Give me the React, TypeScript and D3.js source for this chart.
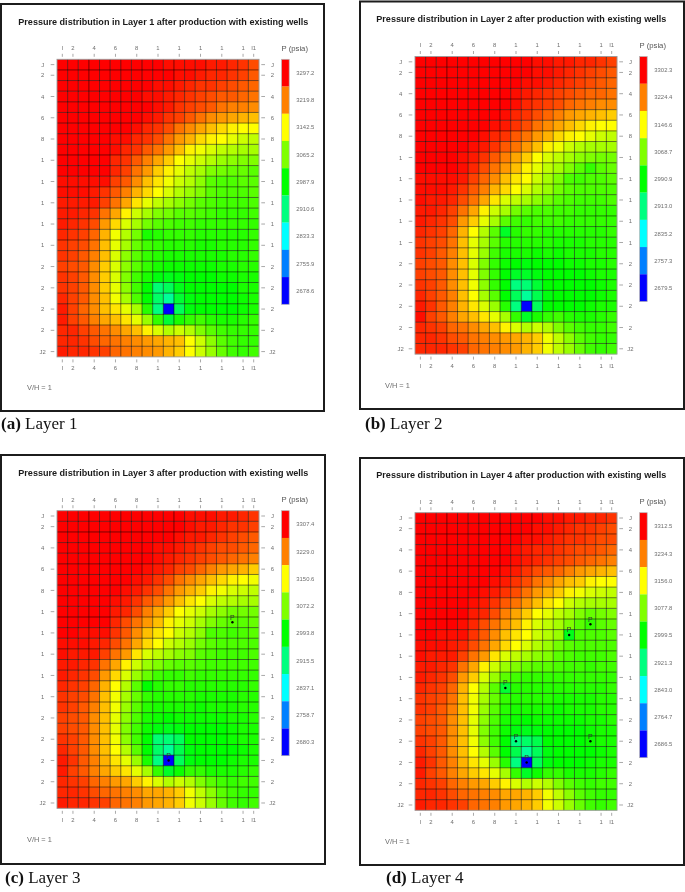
import React from "react";
import * as d3 from "d3";

// Cell readings: tenths of a legend step below the top legend value (0 = top band, 80 = bottom band)
const layer1Levels = [
  [0,0,0,0,0,0,0,0,0,0,1,1,1,1,2,2,3,4,6],
  [0,0,0,0,0,0,0,0,0,0,0,1,1,2,3,3,4,5,7],
  [0,0,0,0,0,0,0,0,0,1,1,2,3,4,4,5,6,7,8],
  [0,0,0,0,0,0,0,0,1,1,2,3,4,5,6,7,7,8,9],
  [0,0,0,0,0,0,0,0,0,1,2,4,5,6,7,9,10,10,11],
  [0,0,0,0,0,0,0,0,1,2,4,5,7,9,11,12,13,14,15],
  [0,0,0,0,0,0,0,1,3,4,6,9,11,13,15,17,19,20,20],
  [0,0,0,0,0,1,1,3,4,6,9,12,14,17,19,20,22,24,25],
  [0,0,0,0,0,1,3,4,7,9,12,15,19,21,23,25,26,27,27],
  [0,0,0,0,0,3,4,7,10,13,16,20,22,24,26,28,29,30,30],
  [0,0,0,0,0,3,5,9,12,16,19,22,25,27,30,31,32,32,33],
  [1,1,1,1,1,5,7,11,15,18,21,24,26,29,33,34,34,33,33],
  [1,1,1,2,4,7,10,14,17,20,23,26,28,30,33,34,34,34,33],
  [2,2,2,2,5,9,13,18,22,25,27,29,31,33,34,35,35,35,34],
  [2,2,3,4,9,13,19,24,27,30,31,33,33,34,35,36,36,36,35],
  [2,3,4,6,12,17,23,27,31,33,34,35,35,36,36,36,36,36,36],
  [3,4,5,8,14,21,26,31,38,37,36,36,36,37,37,37,37,37,36],
  [4,5,6,9,15,22,27,32,35,36,37,37,37,38,38,37,37,37,36],
  [4,5,7,10,15,23,29,33,36,37,38,38,38,38,38,38,37,37,36],
  [5,6,7,11,16,23,29,33,36,38,39,39,39,39,39,38,38,37,37],
  [4,5,7,11,16,23,30,35,38,41,42,41,40,40,40,39,39,38,38],
  [4,5,7,11,16,22,29,35,40,49,47,42,40,40,40,40,40,38,38],
  [3,5,7,11,15,21,27,34,40,48,52,44,41,40,40,40,40,39,38],
  [2,5,8,11,15,18,22,27,37,50,80,47,41,40,40,40,40,39,38],
  [2,5,7,10,13,15,18,22,28,36,44,38,36,35,37,38,38,37,36],
  [3,3,5,7,9,11,13,15,19,23,26,24,26,30,33,35,36,36,36],
  [3,3,4,6,8,9,10,11,12,13,14,15,20,24,29,33,35,36,36],
  [2,3,3,4,5,8,9,10,11,12,14,16,20,24,28,32,35,36,35],
];
const layer2Levels = [
  [0,0,0,0,0,0,0,0,0,0,0,1,1,2,2,3,3,4,5],
  [0,0,0,0,0,0,0,0,0,0,0,1,1,2,3,4,5,6,7],
  [0,0,0,0,0,0,0,0,0,0,1,1,2,3,4,5,6,7,8],
  [0,0,0,0,0,0,0,0,0,1,2,3,4,5,6,7,8,8,9],
  [0,0,0,0,0,0,0,0,0,1,3,4,5,6,8,9,10,11,11],
  [0,0,0,0,0,0,0,0,1,3,4,6,8,10,12,13,14,15,16],
  [0,0,0,0,0,0,0,1,2,4,6,9,11,13,15,17,19,20,20],
  [0,0,0,0,0,0,1,3,4,7,9,12,14,17,19,20,22,24,25],
  [0,0,0,0,0,1,2,4,7,9,12,15,19,21,24,26,27,27,27],
  [0,0,0,0,1,2,4,7,10,13,16,20,23,25,27,29,30,31,31],
  [0,0,0,0,1,3,6,9,12,15,19,22,25,27,30,33,36,33,32],
  [1,1,1,1,2,5,8,11,15,18,20,24,27,30,34,35,34,34,33],
  [1,1,1,2,4,7,10,14,17,20,23,26,28,31,33,34,34,34,34],
  [1,2,2,3,6,9,13,18,23,25,27,29,31,33,34,35,35,35,34],
  [2,2,3,5,9,13,19,24,27,31,33,34,34,35,35,36,36,36,36],
  [2,3,4,6,12,16,22,27,33,35,36,35,35,35,36,36,36,36,36],
  [3,4,5,8,14,20,26,33,43,37,36,36,37,37,37,37,37,37,36],
  [4,5,6,9,15,22,27,33,37,37,37,37,37,38,38,38,37,37,37],
  [4,5,7,10,15,22,28,35,38,38,38,39,38,39,38,38,38,37,37],
  [5,6,7,11,15,23,30,36,39,40,41,40,40,40,39,39,38,38,37],
  [5,6,7,11,15,22,30,36,40,43,43,41,40,40,40,40,39,38,38],
  [4,5,7,11,15,21,29,36,40,50,49,44,40,40,40,40,40,39,38],
  [3,5,7,10,15,20,27,33,40,47,52,46,41,40,40,40,40,39,38],
  [2,4,7,10,14,18,23,28,37,50,80,47,40,40,40,40,39,38,38],
  [1,5,7,10,13,15,18,22,27,36,43,38,36,35,37,38,38,37,36],
  [3,4,5,8,9,11,13,15,19,23,26,24,26,30,33,35,36,36,35],
  [3,3,4,6,7,9,10,11,12,13,14,16,21,25,29,33,35,36,36],
  [3,3,3,4,5,8,9,10,11,12,14,16,21,25,28,32,35,36,35],
];
const layer3Levels = [
  [0,0,0,0,0,0,0,0,0,0,0,0,1,1,1,2,2,3,4],
  [0,0,0,0,0,0,0,0,0,0,0,0,1,2,2,3,4,4,5],
  [0,0,0,0,0,0,0,0,0,0,0,1,2,2,3,4,5,6,7],
  [0,0,0,0,0,0,0,0,0,1,1,2,3,4,5,6,6,7,8],
  [0,0,0,0,0,0,0,0,0,1,2,3,4,5,6,7,8,9,10],
  [0,0,0,0,0,0,0,0,1,2,3,5,6,8,10,12,13,14,16],
  [0,0,0,0,0,0,0,1,2,4,6,9,11,13,15,17,19,20,21],
  [0,0,0,0,0,0,1,2,4,6,9,12,14,16,19,21,23,24,25],
  [0,0,0,0,0,1,2,4,7,9,12,15,18,20,23,25,26,27,27],
  [0,0,0,0,0,2,3,6,10,13,16,20,22,24,27,29,31,31,31],
  [0,0,0,0,0,3,6,9,12,15,19,22,24,27,30,32,33,33,32],
  [0,0,1,1,1,4,7,11,15,18,20,24,26,29,34,34,35,34,33],
  [1,1,1,2,3,6,9,13,17,20,24,26,28,31,33,34,34,34,34],
  [1,2,2,2,5,9,12,18,23,25,27,29,30,33,34,35,35,35,34],
  [2,2,3,4,9,13,19,24,28,30,32,33,33,34,35,35,35,35,35],
  [2,3,4,6,12,17,23,28,32,35,36,36,35,36,36,36,36,36,36],
  [3,4,5,8,14,20,26,33,40,37,36,36,37,37,37,37,37,37,36],
  [4,5,6,9,15,21,27,32,36,37,37,37,37,38,38,38,38,37,37],
  [4,5,7,10,15,21,28,33,37,38,38,38,38,39,38,38,38,37,37],
  [5,6,7,11,15,22,29,34,38,39,40,39,39,39,39,39,38,38,37],
  [5,6,7,11,15,22,30,35,39,41,42,41,40,40,40,40,39,38,38],
  [4,5,7,11,15,21,29,35,40,49,49,47,40,40,40,40,39,38,38],
  [3,5,7,11,15,20,26,33,40,48,52,46,41,40,40,40,40,39,38],
  [2,4,7,10,14,18,22,28,38,50,80,47,41,40,40,40,39,38,38],
  [2,5,7,10,13,16,18,22,27,36,43,39,36,36,38,38,38,37,36],
  [3,4,5,8,10,12,13,16,19,23,26,24,26,30,33,35,36,35,35],
  [3,3,4,6,8,9,10,11,13,13,14,16,21,25,29,33,35,36,36],
  [2,3,3,4,5,8,9,10,12,13,14,16,21,24,28,32,35,36,35],
];
const layer4Levels = [
  [0,0,0,0,0,0,0,0,0,0,0,0,1,1,2,2,3,3,4],
  [0,0,0,0,0,0,0,0,0,0,0,1,1,2,3,4,4,5,6],
  [0,0,0,0,0,0,0,0,0,0,1,1,2,3,4,4,5,6,6],
  [0,0,0,0,0,0,0,0,0,1,2,3,3,4,5,6,6,7,8],
  [0,0,0,0,0,0,0,0,0,1,2,3,4,5,6,7,8,9,10],
  [0,0,0,0,0,0,0,0,1,2,4,6,7,8,10,12,13,14,15],
  [0,0,0,0,0,0,0,1,2,4,6,9,11,13,15,16,19,20,20],
  [0,0,0,0,0,0,1,2,4,6,9,12,14,16,19,21,23,24,25],
  [0,0,0,0,0,1,2,4,7,9,12,15,18,20,24,26,27,27,27],
  [0,0,0,0,0,2,3,6,10,13,16,20,22,25,27,30,32,31,30],
  [0,0,0,0,1,3,6,9,12,15,19,23,25,27,30,33,36,33,32],
  [0,0,1,1,1,4,7,11,15,18,20,24,26,28,42,34,34,34,33],
  [1,1,1,2,3,6,9,13,17,20,23,26,28,31,33,34,34,34,34],
  [1,2,2,2,5,9,12,18,23,25,27,29,30,33,34,35,35,35,34],
  [2,2,3,4,9,13,19,24,28,30,32,33,33,34,35,35,36,35,35],
  [2,3,4,6,12,16,23,28,33,35,36,36,36,36,36,36,36,36,36],
  [3,4,5,8,14,20,26,33,44,37,37,37,37,37,37,37,37,37,36],
  [4,5,6,9,15,21,27,32,36,37,37,37,37,38,38,38,38,37,37],
  [4,5,7,10,15,21,28,33,37,38,38,38,38,39,38,38,38,37,37],
  [5,6,7,11,15,22,29,34,38,39,40,39,39,39,39,39,38,38,37],
  [5,6,7,11,15,22,30,35,39,41,42,41,40,40,40,40,39,38,38],
  [4,5,7,11,15,21,29,35,40,50,48,46,40,40,40,40,39,38,38],
  [3,5,7,11,15,20,26,33,40,46,52,47,41,40,40,40,40,39,38],
  [2,4,7,10,14,18,22,28,37,50,80,47,41,40,40,40,39,38,38],
  [2,5,7,10,13,16,18,22,27,36,43,39,36,36,38,38,38,37,36],
  [3,4,5,8,10,12,13,16,19,23,26,24,26,30,33,35,36,35,35],
  [3,3,4,6,8,9,10,11,13,13,14,16,21,25,29,33,35,36,36],
  [2,3,3,4,5,8,9,10,12,13,14,16,21,24,28,32,35,36,35],
];

const legend1 = [3297.2, 3219.8, 3142.5, 3065.2, 2987.9, 2910.6, 2833.3, 2755.9, 2678.6];
const legend2 = [3302.3, 3224.4, 3146.6, 3068.7, 2990.9, 2913.0, 2835.2, 2757.3, 2679.5];
const legend3 = [3307.4, 3229.0, 3150.6, 3072.2, 2993.8, 2915.5, 2837.1, 2758.7, 2680.3];
const legend4 = [3312.5, 3234.3, 3156.0, 3077.8, 2999.5, 2921.3, 2843.0, 2764.7, 2686.5];

const wells1: [number, number][] = [];
const wells2: [number, number][] = [];
const wells3: [number, number][] = [[17, 11], [11, 24]];
const wells4: [number, number][] = [[17, 11], [15, 12], [9, 17], [10, 22], [17, 22], [11, 24]];

const columns = d3.range(1, 20);
const rows = d3.range(1, 29);
const xTicks: [number, string][] = [[1,"I"],[2,"2"],[4,"4"],[6,"6"],[8,"8"],[10,"1"],[12,"1"],[14,"1"],[16,"1"],[18,"1"],[19,"I1"]];
const yTicks: [number, string][] = [[1,"J"],[2,"2"],[4,"4"],[6,"6"],[8,"8"],[10,"1"],[12,"1"],[14,"1"],[16,"1"],[18,"1"],[20,"2"],[22,"2"],[24,"2"],[26,"2"],[28,"J2"]];

const panels = [
  { layer: 1, levels: layer1Levels, legend: legend1, wells: wells1, letter: "(a)", gx: 57, gy: 59.3, fl: 1, ft: 4, fr: 324, fb: 411, cx: 1, cy: 429 },
  { layer: 2, levels: layer2Levels, legend: legend2, wells: wells2, letter: "(b)", gx: 415, gy: 56.5, fl: 360, ft: 1.5, fr: 684, fb: 409, cx: 365, cy: 429 },
  { layer: 3, levels: layer3Levels, legend: legend3, wells: wells3, letter: "(c)", gx: 57, gy: 510.7, fl: 1, ft: 455, fr: 325, fb: 864, cx: 5, cy: 883 },
  { layer: 4, levels: layer4Levels, legend: legend4, wells: wells4, letter: "(d)", gx: 415, gy: 512.7, fl: 360, ft: 458, fr: 684, fb: 865, cx: 386, cy: 883 },
];

const GRID_W = 202;
const GRID_H = 297.6;
const SANS = "'Liberation Sans', Arial, sans-serif";
const SERIF = "'Liberation Serif', 'Times New Roman', serif";
const GREY = "#6e6e6e";

function Panel({ p }: { p: (typeof panels)[number] }) {
  const x = d3.scaleBand<number>().domain(columns).range([p.gx, p.gx + GRID_W]);
  const y = d3.scaleBand<number>().domain(rows).range([p.gy, p.gy + GRID_H]);
  const top = p.legend[0];
  const bottom = p.legend[p.legend.length - 1];
  const hue = d3.scaleLinear().domain([top, bottom]).range([0, 240]);
  const pressure = d3.scaleLinear().domain([0, 80]).range([top, bottom]);
  const colour = (v: number) => d3.hsl(hue(v), 1, 0.5).formatHex();
  const cx = (c: number) => x(c)! + x.bandwidth() / 2;
  const cy = (r: number) => y(r)! + y.bandwidth() / 2;

  const lx = p.gx + 224.6;
  const legendY = d3.scaleBand<number>().domain(p.legend).range([p.gy, p.gy + 245]);

  return (
    <g>
      <rect x={p.fl} y={p.ft} width={p.fr - p.fl} height={p.fb - p.ft} fill="#fff" stroke="#1c1c1c" strokeWidth={2} />
      <text x={p.gx + 106.3} y={p.gy - 34.5} textAnchor="middle" fontFamily={SANS} fontWeight="bold" fontSize={9.07} fill="#1a1a1a">
        {`Pressure distribution in Layer ${p.layer} after production with existing wells`}
      </text>

      {p.levels.map((row, ri) =>
        row.map((lv, ci) => (
          <rect key={`${ri}-${ci}`} x={x(columns[ci])} y={y(rows[ri])} width={x.bandwidth() + 0.1} height={y.bandwidth() + 0.1} fill={colour(pressure(lv))} />
        ))
      )}
      {columns.slice(1).map((c) => (
        <line key={`v${c}`} x1={x(c)} x2={x(c)} y1={p.gy} y2={p.gy + GRID_H} stroke="#000" strokeOpacity={0.58} strokeWidth={0.9} />
      ))}
      {rows.slice(1).map((r) => (
        <line key={`h${r}`} x1={p.gx} x2={p.gx + GRID_W} y1={y(r)} y2={y(r)} stroke="#000" strokeOpacity={0.58} strokeWidth={0.9} />
      ))}
      <rect x={p.gx} y={p.gy} width={GRID_W} height={GRID_H} fill="none" stroke="#9a9a9a" strokeWidth={0.9} />

      {xTicks.map(([c, label]) => (
        <g key={`x${c}`} fill={GREY} stroke="none" fontFamily={SANS} fontSize={5.9} textAnchor="middle">
          <line x1={cx(c)} x2={cx(c)} y1={p.gy - 5.5} y2={p.gy - 2.5} stroke={GREY} strokeWidth={0.6} />
          <line x1={cx(c)} x2={cx(c)} y1={p.gy + GRID_H + 2.5} y2={p.gy + GRID_H + 5.5} stroke={GREY} strokeWidth={0.6} />
          <text x={cx(c)} y={p.gy - 9.2}>{label}</text>
          <text x={cx(c)} y={p.gy + GRID_H + 13.4}>{label}</text>
        </g>
      ))}
      {yTicks.map(([r, label]) => (
        <g key={`y${r}`} fill={GREY} fontFamily={SANS} fontSize={5.9}>
          <line x1={p.gx - 6.3} x2={p.gx - 2.7} y1={cy(r)} y2={cy(r)} stroke={GREY} strokeWidth={0.6} />
          <line x1={p.gx + GRID_W + 2.3} x2={p.gx + GRID_W + 6} y1={cy(r)} y2={cy(r)} stroke={GREY} strokeWidth={0.6} />
          <text x={p.gx - 14.3} y={cy(r) + 2.1} textAnchor="middle">{label}</text>
          <text x={p.gx + GRID_W + 13.4} y={cy(r) + 2.1} textAnchor="middle">{label}</text>
        </g>
      ))}

      {p.wells.map(([c, r]) => (
        <g key={`w${c}-${r}`}>
          <circle cx={cx(c)} cy={cy(r)} r={1.2} fill="#000" />
          <text x={cx(c)} y={cy(r) - 2.6} textAnchor="middle" fontFamily={SANS} fontSize={7} fill="#333">P</text>
        </g>
      ))}

      <text x={lx} y={p.gy - 8.7} fontFamily={SANS} fontSize={7.7} fill="#555">P (psia)</text>
      {p.legend.map((v) => (
        <g key={v}>
          <rect x={lx} y={legendY(v)} width={7.6} height={legendY.bandwidth() + 0.1} fill={colour(v)} />
          <text x={lx + 14.7} y={legendY(v)! + legendY.bandwidth() / 2 + 2.1} fontFamily={SANS} fontSize={5.9} fill={GREY}>{v.toFixed(1)}</text>
        </g>
      ))}
      <rect x={lx} y={p.gy} width={7.6} height={245} fill="none" stroke="#b5b5b5" strokeWidth={0.7} />

      <text x={p.gx - 30} y={p.gy + GRID_H + 33.5} fontFamily={SANS} fontSize={7.4} fill={GREY}>V/H = 1</text>

      <text x={p.cx} y={p.cy} fontFamily={SERIF} fontSize={17} fill="#111">
        <tspan fontWeight="bold">{p.letter}</tspan>
        <tspan> Layer {p.layer}</tspan>
      </text>
    </g>
  );
}

export default function App() {
  return (
    <svg
      width={685}
      height={892}
      viewBox="0 0 685 892"
      style={{ position: "absolute", left: 0, top: 0, display: "block", background: "#fff", filter: "blur(0.35px)" }}
    >
      {panels.map((p) => (
        <Panel key={p.layer} p={p} />
      ))}
    </svg>
  );
}
